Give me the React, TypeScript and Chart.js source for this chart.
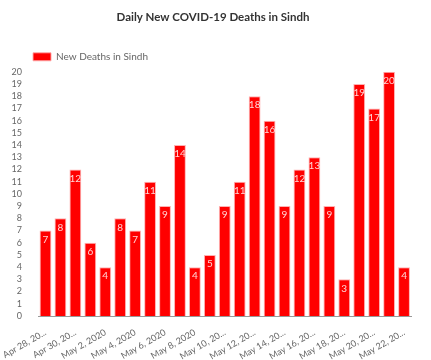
import React, { useEffect, useRef } from "react";
import { Chart, registerables } from "chart.js";

Chart.register(...registerables);

const categories = [
  "Apr 28, 2020", "Apr 29, 2020", "Apr 30, 2020", "May 1, 2020", "May 2, 2020",
  "May 3, 2020", "May 4, 2020", "May 5, 2020", "May 6, 2020", "May 7, 2020",
  "May 8, 2020", "May 9, 2020", "May 10, 2020", "May 11, 2020", "May 12, 2020",
  "May 13, 2020", "May 14, 2020", "May 15, 2020", "May 16, 2020", "May 17, 2020",
  "May 18, 2020", "May 19, 2020", "May 20, 2020", "May 21, 2020", "May 22, 2020",
];
const deaths = [7, 8, 12, 6, 4, 8, 7, 11, 9, 14, 4, 5, 9, 11, 18, 16, 9, 12, 13, 9, 3, 19, 17, 20, 4];
const seriesName = "New Deaths in Sindh";
const chartTitle = "Daily New COVID-19 Deaths in Sindh";

const FONT = "Lato, 'Noto Sans', sans-serif";

const labelPlugin = {
  id: "barLabels",
  afterLayout(chart: any) {
    if (chart.legend) {
      const w = chart.legend.right - chart.legend.left;
      chart.legend.left = chart.chartArea.left - 13;
      chart.legend.right = chart.legend.left + w;
    }
    if (chart.titleBlock) {
      chart.titleBlock.left = 0;
      chart.titleBlock.right = chart.width - 5;
    }
  },
  afterDatasetsDraw(chart: any) {
    const ctx = chart.ctx;
    const meta = chart.getDatasetMeta(0);
    const area = chart.chartArea;
    ctx.save();
    ctx.beginPath();
    ctx.rect(area.left, area.top, area.right - area.left, area.bottom - area.top);
    ctx.clip();
    ctx.font = `10px ${FONT}`;
    ctx.fillStyle = "rgba(255,225,225,0.95)";
    ctx.textAlign = "center";
    ctx.textBaseline = "top";
    meta.data.forEach((bar: any, i: number) => {
      ctx.fillText(String(deaths[i]), bar.x, bar.y + 4);
    });
    ctx.restore();
  },
};

export default function App() {
  const ref = useRef<HTMLCanvasElement>(null);
  useEffect(() => {
    document.body.style.margin = "0";
    const chart = new Chart(ref.current!, {
      type: "bar",
      data: {
        labels: categories,
        datasets: [
          {
            label: seriesName,
            data: deaths,
            backgroundColor: "#ff0000",
            borderColor: "rgba(255,170,170,0.9)",
            borderWidth: 1,
            barPercentage: 0.88,
            categoryPercentage: 0.9,
          },
        ],
      },
      options: {
        animation: false,
        responsive: false,
        maintainAspectRatio: false,
        layout: { padding: { left: 0, right: 19.5, top: 6, bottom: 0 } },
        plugins: {
          title: {
            display: true,
            text: chartTitle,
            color: "#333",
            font: { family: FONT, size: 11.5, weight: "bold" },
            padding: { top: 4, bottom: 20 },
          },
          legend: {
            align: "start",
            labels: {
              boxWidth: 18,
              boxHeight: 8,
              color: "#666",
              font: { family: FONT, size: 10 },
              padding: 8,
            },
          },
          tooltip: { enabled: false },
        },
        scales: {
          x: {
            grid: { display: false },
            border: { display: true, color: "#999" },
            afterFit: (scale: any) => {
              scale.height = 44;
            },
            ticks: {
              color: "#666",
              font: { family: FONT, size: 9 },
              maxRotation: 30,
              minRotation: 30,
              autoSkip: true,
              callback: function (this: any, value: any) {
                const s = this.getLabelForValue(value) as string;
                return s.length > 11 ? s.slice(0, 10) + "..." : s;
              },
            },
          },
          y: {
            min: 0,
            max: 20,
            grid: { display: false },
            border: { display: false },
            afterFit: (scale: any) => {
              scale.width = 33.4;
            },
            ticks: {
              stepSize: 1,
              autoSkip: false,
              color: "#666",
              font: { family: FONT, size: 9 },
              padding: 8,
            },
          },
        },
      },
      plugins: [labelPlugin],
    });
    return () => chart.destroy();
  }, []);
  return <canvas ref={ref} width={431} height={360} style={{ display: "block" }} />;
}
